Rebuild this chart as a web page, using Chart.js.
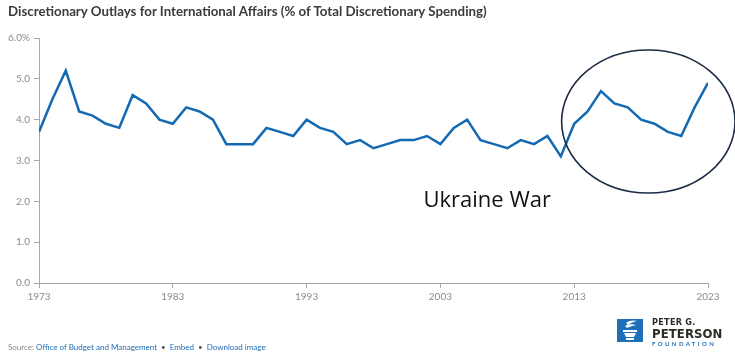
<!DOCTYPE html>
<html>
<head>
<meta charset="utf-8">
<script src="https://cdn.jsdelivr.net/npm/chart.js@4/dist/chart.umd.min.js"></script>
<style>
  html, body { margin: 0; padding: 0; background: #fff; }
  #wrap { position: relative; width: 735px; height: 359px; overflow: hidden; }
  #chart { position: absolute; left: 0; top: 0; }
  #title { position: absolute; left: 8px; top: 3px; font: bold 13.3px Lato, sans-serif; color: #3b3b3b; white-space: nowrap; }
  #footer { position: absolute; left: 8px; top: 342px; font: 8px Lato, sans-serif; color: #8a8a8a; white-space: nowrap; }
  #footer span.l { color: #1d6db5; }
  #footer span.d { color: #555; margin: 0 4px; }
  #logo { position: absolute; left: 617px; top: 319px; width: 118px; height: 30px; }
  #logo .sq { position: absolute; left: 0; top: 0; width: 26px; height: 23px; background: #1d6fb8; }
  #logo .t1 { position: absolute; left: 35px; top: -2px; font: bold 9px "Liberation Sans Narrow", "DejaVu Sans Condensed", sans-serif; color: #2e2a26; letter-spacing: 0.3px; }
  #logo .t2 { position: absolute; left: 35px; top: 7px; font: bold 13px "Liberation Sans Narrow", "DejaVu Sans Condensed", sans-serif; color: #2e2a26; letter-spacing: 0.1px; }
  #logo .t3 { position: absolute; left: 35px; top: 21px; font: bold 6px Lato, sans-serif; color: #1d6fb8; letter-spacing: 2.4px; }
</style>
</head>
<body>
<div id="wrap">
  <canvas id="chart" width="735" height="359"></canvas>
  <div id="title">Discretionary Outlays for International Affairs (% of Total Discretionary Spending)</div>
  <div id="footer">Source: <span class="l">Office of Budget and Management</span><span class="d">•</span><span class="l">Embed</span><span class="d">•</span><span class="l">Download image</span></div>
  <div id="logo">
    <div class="sq">
      <svg width="26" height="23" viewBox="0 0 26 23">
        <path d="M9 4 C12 1,17 1,20 2 C16 3,13 4,11 6 Z" fill="#fff"/>
        <path d="M8 7 C11 5,16 5,19 6 C15 7,12 8,10 9 Z" fill="#fff"/>
        <rect x="6" y="11" width="14" height="2" fill="#fff"/>
        <path d="M7 14 L19 14 L17 18 L9 18 Z" fill="#fff"/>
        <rect x="9" y="19" width="8" height="2" fill="#fff"/>
      </svg>
    </div>
    <div class="t1">PETER G.</div>
    <div class="t2">PETERSON</div>
    <div class="t3">FOUNDATION</div>
  </div>
</div>
<script>
// ---- Data ----
const years = [1973,1974,1975,1976,1977,1978,1979,1980,1981,1982,1983,1984,1985,1986,1987,1988,1989,1990,1991,1992,1993,1994,1995,1996,1997,1998,1999,2000,2001,2002,2003,2004,2005,2006,2007,2008,2009,2010,2011,2012,2013,2014,2015,2016,2017,2018,2019,2020,2021,2022,2023];
const shares = [3.7,4.5,5.2,4.2,4.1,3.9,3.8,4.6,4.4,4.0,3.9,4.3,4.2,4.0,3.4,3.4,3.4,3.8,3.7,3.6,4.0,3.8,3.7,3.4,3.5,3.3,3.4,3.5,3.5,3.6,3.4,3.8,4.0,3.5,3.4,3.3,3.5,3.4,3.6,3.1,3.9,4.2,4.7,4.4,4.3,4.0,3.9,3.7,3.6,4.3,4.9];
const xTicks = [1973,1983,1993,2003,2013,2023];
const yTicks = [0,1,2,3,4,5,6];
const annotationText = "Ukraine War";

// annotation placement in data units
const ellipseSpec = { cx: 2018.54, cy: 3.955, rx: 6.48, ry: 1.75 };
const textSpec = { x: 2006.5, y: 1.86 };

const annotPlugin = {
  id: 'annot',
  afterDatasetsDraw(chart) {
    const ctx = chart.ctx, xs = chart.scales.x, ys = chart.scales.y;
    const cx = xs.getPixelForValue(ellipseSpec.cx), cy = ys.getPixelForValue(ellipseSpec.cy);
    const rx = Math.abs(xs.getPixelForValue(ellipseSpec.cx + ellipseSpec.rx) - cx);
    const ry = Math.abs(ys.getPixelForValue(ellipseSpec.cy + ellipseSpec.ry) - cy);
    ctx.save();
    ctx.beginPath();
    ctx.ellipse(cx, cy, rx, ry, 0, 0, Math.PI * 2);
    ctx.lineWidth = 1.6;
    ctx.strokeStyle = '#1c2b44';
    ctx.stroke();
    ctx.font = '22px "Open Sans", sans-serif';
    ctx.fillStyle = '#111';
    ctx.textAlign = 'center';
    ctx.textBaseline = 'alphabetic';
    ctx.fillText(annotationText, xs.getPixelForValue(textSpec.x), ys.getPixelForValue(textSpec.y));
    ctx.restore();
  }
};

new Chart(document.getElementById('chart'), {
  type: 'line',
  data: {
    datasets: [{
      data: years.map((y, i) => ({ x: y, y: shares[i] })),
      borderColor: '#1469b3',
      borderWidth: 2.5,
      pointRadius: 0,
      tension: 0,
      fill: false
    }]
  },
  options: {
    responsive: false,
    animation: false,
    layout: { padding: { top: 38, left: 0, right: 27, bottom: 52 } },
    plugins: { legend: { display: false }, tooltip: { enabled: false }, title: { display: false } },
    scales: {
      x: {
        type: 'linear',
        min: years[0], max: years[years.length - 1],
        afterBuildTicks: s => { s.ticks = xTicks.map(v => ({ value: v })); },
        afterFit: s => { s.height = 24; },
        border: { color: '#a8a8a8', width: 1 },
        grid: { drawOnChartArea: false, drawTicks: true, tickLength: 5, color: '#a8a8a8' },
        ticks: { color: '#8c8c8c', font: { family: 'Lato', size: 10 }, padding: 3, maxRotation: 0, callback: v => String(v) }
      },
      y: {
        min: 0, max: 6,
        afterBuildTicks: s => { s.ticks = yTicks.map(v => ({ value: v })); },
        afterFit: s => { s.width = 39; },
        border: { color: '#a8a8a8', width: 1 },
        grid: { drawOnChartArea: false, drawTicks: true, tickLength: 5, color: '#a8a8a8' },
        ticks: { color: '#8c8c8c', font: { family: 'Lato', size: 10 }, padding: 4, callback: v => v === 6 ? '6.0%' : v.toFixed(1) }
      }
    }
  },
  plugins: [annotPlugin]
});
</script>
</body>
</html>
